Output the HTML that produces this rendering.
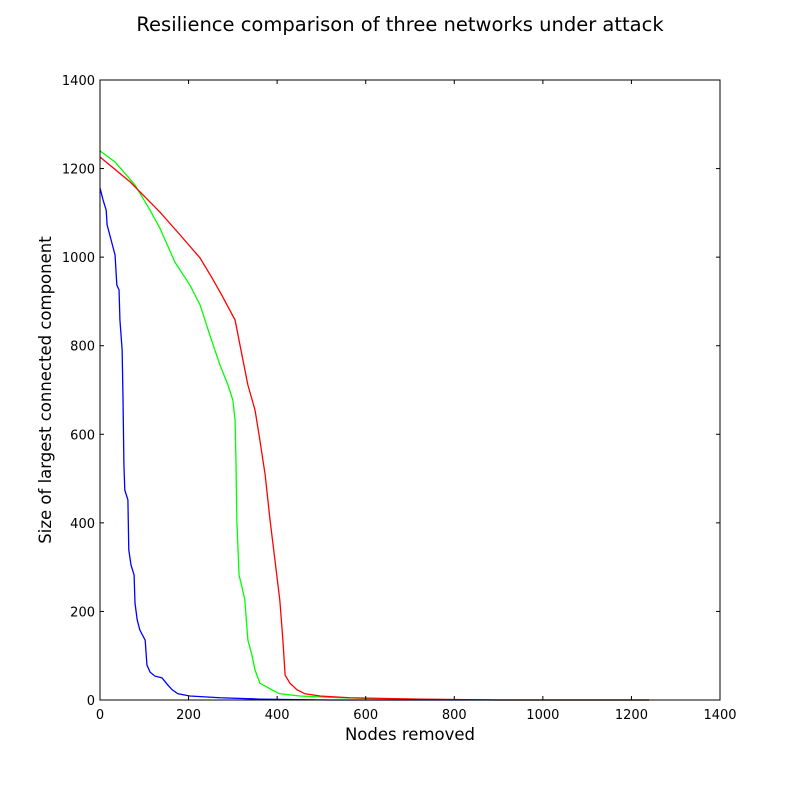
<!DOCTYPE html>
<html><head><meta charset="utf-8"><style>
body{margin:0;background:#fff}
svg{display:block;font-family:"DejaVu Sans","Liberation Sans",sans-serif}
</style></head><body>
<svg width="800" height="800">
<rect width="800" height="800" fill="#fff"/>
<text x="400" y="31" text-anchor="middle" font-size="19.5">Resilience comparison of three networks under attack</text>
<g id="plot"></g>
<text x="410" y="740" text-anchor="middle" font-size="16.5">Nodes removed</text>
<text transform="translate(51,390) rotate(-90)" text-anchor="middle" font-size="16.5">Size of largest connected component</text>
</svg>
<script>
const xTicks=[0,200,400,600,800,1000,1200,1400];
const yTicks=[0,200,400,600,800,1000,1200,1400];
const blueX=[0,7,14,16,25,34,38,43,45,50,52,54,56,63,65,70,77,79,84,90,102,106,113,124,140,153,163,176,203,271,361,519,1240];
const blueY=[1156,1129,1106,1073,1039,1005,937,926,858,790,677,531,474,452,339,305,282,219,181,158,135,79,63,54,50,34,23,14,9,5,2,0,0];
const greenX=[0,34,79,113,135,169,203,226,248,271,289,300,305,307,309,314,321,327,334,343,350,361,388,406,451,542,677,903,1240];
const greenY=[1240,1215,1163,1106,1066,989,937,892,824,756,711,677,632,542,406,282,253,226,135,102,68,38,23,14,9,5,2,0,0];
const redX=[0,68,135,181,226,253,275,305,316,334,350,361,373,384,395,406,413,418,429,445,463,497,564,723,903,1240];
const redY=[1226,1170,1102,1050,998,953,914,858,802,711,655,587,508,406,316,226,135,56,38,23,14,9,5,2,0,0];
const L=100,R=720,T=80,B=700,XMAX=1400,YMAX=1400;
const sx=v=>L+v/XMAX*(R-L), sy=v=>B-v/YMAX*(B-T);
const NS="http://www.w3.org/2000/svg";
const g=document.getElementById('plot');
function mk(t,a){const e=document.createElementNS(NS,t);for(const k in a)e.setAttribute(k,a[k]);g.appendChild(e);return e;}
function series(xs,ys,color,name){
  const pts=xs.map((x,i)=>sx(x)+','+sy(ys[i]));
  const p=mk('polyline',{points:pts.join(' '),fill:'none',stroke:color,'stroke-width':1.3});
  
  
}
series(blueX,blueY,'#0000ff','blue-series-line');
series(greenX,greenY,'#00ff00','green-series-line');
series(redX,redY,'#ff0000','red-series-line');
xTicks.forEach(v=>{
  const x=sx(v);
  mk('line',{x1:x,x2:x,y1:B,y2:B-4,stroke:'#000'});
  mk('line',{x1:x,x2:x,y1:T,y2:T+4,stroke:'#000'});
  const t=mk('text',{x:x,y:B+19,'text-anchor':'middle','font-size':13});
  t.textContent=v;
  
  
});
yTicks.forEach(v=>{
  const y=sy(v);
  mk('line',{x1:L,x2:L+4,y1:y,y2:y,stroke:'#000'});
  mk('line',{x1:R,x2:R-4,y1:y,y2:y,stroke:'#000'});
  const t=mk('text',{x:L-5,y:y+5,'text-anchor':'end','font-size':13});
  t.textContent=v;
  
  
});
const fr=mk('rect',{x:L,y:T,width:R-L,height:B-T,fill:'none',stroke:'#000','stroke-width':1});


</script>
</body></html>
